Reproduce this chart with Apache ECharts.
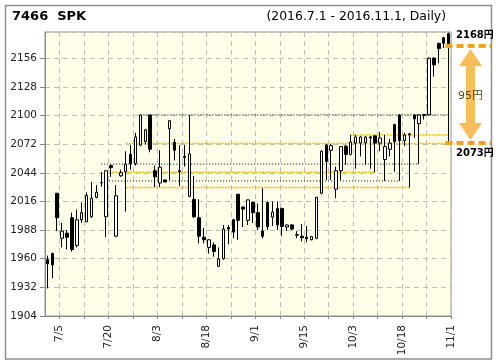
<!DOCTYPE html>
<html><head><meta charset="utf-8">
<script src="https://cdn.jsdelivr.net/npm/echarts@6/dist/echarts.min.js"></script>
<style>html,body{margin:0;padding:0;background:#fff}#c{width:496px;height:364px}</style>
</head><body><div id="c"></div>
<script>
// ---- data ----
const dates = ['7/1','7/4','7/5','7/6','7/7','7/8','7/11','7/12','7/13','7/14','7/15','7/19','7/20','7/21','7/22','7/25','7/26','7/27','7/28','7/29',
 '8/1','8/2','8/3','8/4','8/5','8/8','8/9','8/10','8/12','8/15','8/16','8/17','8/18','8/19','8/22','8/23','8/24','8/25','8/26','8/29','8/30','8/31',
 '9/1','9/2','9/5','9/6','9/7','9/8','9/9','9/12','9/13','9/14','9/15','9/16','9/20','9/21','9/23','9/26','9/27','9/28','9/29','9/30',
 '10/3','10/4','10/5','10/6','10/7','10/11','10/12','10/13','10/14','10/17','10/18','10/19','10/20','10/21','10/24','10/25','10/26','10/27','10/28','10/31','11/1'];
const opens  = [1959,1965,2024,1980,1985,2000,1973,1998,1996,2001,2020,2034,2001,2051,1982,2041,2045,2062,2053,2071,
 2074.5,2100.5,2046,2034,2037,2087,2074,2046,2060,2021,2018,2000,1981,1971,1973.5,1952.5,1960,1990.5,1998,2023,2010.5,1997.5,
 2015,2005,1987,2015,2000.7,2009,2009,1991,1993,1983.5,1982,1981,1978.5,1980,2024,2071,2066,2028,2046,2070,
 2062,2073,2073,2073.5,2079,2080,2073,2057,2067,2091,2100.5,2075.5,2081,2100.5,2092,2100,2100.6,2156,2170.5,2176,2180];
const closes = [1955,1954,2000,1987,1981,1969,1998,2005,2022,2019,2025,2034.5,2046,2049,2021.5,2044,2052.5,2053,2079,2100.5,
 2086,2067,2040,2049.5,2035,2095,2066,2045,2059,2062.5,2001,1982,1978.5,1978.5,1967,1959.7,1989,1989,1986,1997.5,2008.5,2017.5,
 2005,1991,1982,1991.5,2005.6,1993,1991.5,1993,1989,1983,1980.5,1979.6,1981.7,2020,2065,2055,2070.6,2046,2069.6,2062,
 2074,2079,2079,2079,2078,2073,2078,2069.6,2073,2074.5,2075.5,2081,2082,2096.6,2100.5,2101,2156,2149.5,2165.5,2170.6,2170];
const lows   = [1931,1941,1987,1971,1969,1967,1971,1995,1996,2000,2019,2030.5,1981,2040,1981,2040,2006,2047,2051,2070,
 2072,2064,2030,2030,2035,2037,2056,2031,2050,2020,2000,1975,1975,1965,1962,1952,1959,1974,1980,1978.5,1991,1993,
 1995,1988,1980,1988,1992,1988,1982,1987,1988,1980,1977,1976,1978,1979,2023,2037,2037,2019,2037,2052,
 2061,2048,2060,2052,2048,2044.4,2065,2036,2060,2045,2036,2070,2029.6,2078,2052.5,2096,2100,2138,2151,2166,2168];
const highs  = [1963,1966,2024,1995,1988,2005,2008,2015,2025,2035,2032,2044.7,2046,2052,2032,2047,2065,2071,2083,2101,
 2087,2100.5,2051,2066,2037,2095,2077,2071,2071,2100.5,2041,2018,1990,1979,1976,1971,1993,1993,1999,2023,2011,2018,
 2016,2014,2029,2016,2016,2016,2010,1993.5,1994,1987,1994,1992,1982,2020.5,2066,2072,2072,2050,2070,2071,
 2081,2081,2080,2080,2080,2081,2084,2081,2077,2092,2101,2083,2083,2101,2101,2101,2157,2157,2171,2177,2181];

// support / resistance levels (price, first day index, last day index, kind)
const levelValues = [2100.6, 2081, 2072.5, 2052.5, 2044.4, 2036, 2029.6];
const levelStart  = [19, 62, 16, 11, 12, 12, 16];
const levelEnd    = [82, 82, 82, 76, 67, 72, 74];
const levelKind   = ['k', 'y', 'y', 'k', 'y', 'k', 'y'];

// price range annotation
const rangeLow = 2073, rangeHigh = 2168, rangeDiff = 95;
const rangeDayIndex = 82;

// axis
const yMin = 1904, yMax = 2181.6, yStep = 28;
const tickEvery = 5, labelEvery = 10, firstTickBoundary = 3;

// ---- chart ----
const FONT = "'DejaVu Sans', 'Noto Sans CJK JP', sans-serif";
const chart = echarts.init(document.getElementById('c'), null, {renderer: 'canvas'});
const candle = dates.map((d, i) => [opens[i], closes[i], lows[i], highs[i]]);
const boundaryLabels = [''].concat(dates);

const levelSeries = levelValues.map((v, k) => ({
  type: 'line', xAxisIndex: 0, yAxisIndex: 0, symbol: 'none', silent: true,
  data: [[levelStart[k], v], [levelEnd[k], v]],
  lineStyle: levelKind[k] === 'y'
    ? {color: '#f0c000', width: 1.5, type: [2, 1]}
    : {color: '#000', width: 1, type: [1, 2]},
  z: 2
}));

chart.setOption({
  animation: false,
  backgroundColor: '#fff',
  grid: {left: 45, right: 45, top: 32, bottom: 48, show: true, backgroundColor: '#fefee9', borderColor: '#9a9a9a', borderWidth: 1},
  xAxis: [
    {type: 'category', data: dates, boundaryGap: true,
     axisLine: {show: true, lineStyle: {color: '#888'}}, axisTick: {show: false}, axisLabel: {show: false}, splitLine: {show: false}},
    {type: 'category', data: boundaryLabels, boundaryGap: false, position: 'bottom',
     axisLine: {show: false},
     axisTick: {show: true, length: 3, interval: (i) => i >= firstTickBoundary && (i - firstTickBoundary) % tickEvery === 0, lineStyle: {color: '#888'}},
     axisLabel: {interval: (i) => i >= firstTickBoundary && (i - firstTickBoundary) % labelEvery === 0, rotate: 90, margin: 9, fontSize: 10.5, color: '#222', fontFamily: FONT},
     splitLine: {show: true, interval: (i) => i >= firstTickBoundary && (i - firstTickBoundary) % tickEvery === 0, lineStyle: {color: '#bdbdbd', type: [5, 4]}}}
  ],
  yAxis: {type: 'value', min: yMin, max: yMax, interval: yStep,
    axisLine: {show: true, lineStyle: {color: '#888'}},
    axisTick: {show: true, length: 5, lineStyle: {color: '#888'}},
    axisLabel: {margin: 8, fontSize: 10.5, color: '#222', fontFamily: FONT, showMaxLabel: false, formatter: (v) => String(v)},
    splitLine: {show: true, lineStyle: {color: '#bdbdbd', type: [5, 4]}}},
  series: levelSeries.concat([
    {type: 'line', xAxisIndex: 0, symbol: 'none', silent: true, z: 3,
     data: [[rangeDayIndex, rangeLow], [rangeDayIndex, rangeHigh]], lineStyle: {color: '#000', width: 1}},
    {type: 'candlestick', data: candle, barWidth: 3, z: 4,
     itemStyle: {color: '#fff', color0: '#000', borderColor: '#000', borderColor0: '#000', borderWidth: 1}}
  ])
});

// ---- annotations (positions from the chart's own scales) ----
const yHi = chart.convertToPixel({yAxisIndex: 0}, rangeHigh);
const yLo = chart.convertToPixel({yAxisIndex: 0}, rangeLow);
const xDay = chart.convertToPixel({xAxisIndex: 0}, rangeDayIndex);
const cx = 470.5, ty = yHi + 3, by = yLo - 3, hw = 11.5, hh = 17, sw = 4.5;
chart.setOption({
  graphic: [
    {type: 'rect', shape: {x: 5.5, y: 5.5, width: 486, height: 353.5}, style: {fill: 'none', stroke: '#8f8f8f', lineWidth: 1.5}, z: 100},
    {type: 'text', x: 12, y: 17, style: {text: '7466  SPK', font: 'bold 13px ' + FONT, fill: '#000', verticalAlign: 'middle'}, z: 100},
    {type: 'text', x: 446, y: 17, style: {text: '(2016.7.1 - 2016.11.1, Daily)', font: '12.4px ' + FONT, fill: '#000', align: 'right', verticalAlign: 'middle'}, z: 100},
    {type: 'polygon', shape: {points: [[cx, ty], [cx + hw, ty + hh], [cx + sw, ty + hh], [cx + sw, by - hh], [cx + hw, by - hh], [cx, by],
      [cx - hw, by - hh], [cx - sw, by - hh], [cx - sw, ty + hh], [cx - hw, ty + hh]]}, style: {fill: '#f9bd5c'}, z: 100},
    {type: 'line', shape: {x1: xDay - 3, y1: yHi, x2: 491, y2: yHi}, style: {stroke: '#f4a21c', lineWidth: 4, lineDash: [7, 4]}, z: 101},
    {type: 'line', shape: {x1: xDay - 3, y1: yLo, x2: 491, y2: yLo}, style: {stroke: '#f4a21c', lineWidth: 4, lineDash: [7, 4]}, z: 101},
    {type: 'text', x: 456, y: yHi - 11, style: {text: rangeHigh + '円', font: 'bold 10px ' + FONT, fill: '#000', verticalAlign: 'middle'}, z: 102},
    {type: 'text', x: 456, y: yLo + 10, style: {text: rangeLow + '円', font: 'bold 10px ' + FONT, fill: '#000', verticalAlign: 'middle'}, z: 102},
    {type: 'text', x: cx, y: (yHi + yLo) / 2 + 2, style: {text: rangeDiff + '円', font: '11px ' + FONT, fill: '#5a4810', align: 'center', verticalAlign: 'middle'}, z: 102}
  ]
});
</script>
</body></html>
